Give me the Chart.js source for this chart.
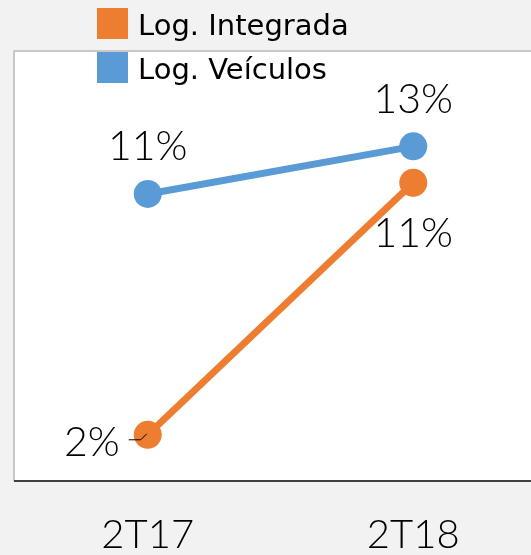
<!DOCTYPE html>
<html>
<head>
<meta charset="utf-8">
<script src="https://cdn.jsdelivr.net/npm/chart.js@4"></script>
<style>
  html, body { margin: 0; padding: 0; background: #f2f2f2; overflow: hidden; }
  #wrap { width: 560px; height: 589px; position: relative; }
</style>
</head>
<body>
<div id="wrap"><canvas id="lineChart"></canvas></div>
<script>
const periods = ['2T17', '2T18'];
const seriesNames = ['Log. Integrada', 'Log. Veículos'];
const integrada = [2.4, 11.4];
const veiculos = [11.0, 12.7];
const seriesColors = ['#ED7D31', '#5B9BD5'];
// where each value label sits relative to its point
const labelPlaces = [['left', 'below'], ['above', 'above']];

const FONT = 'Lato, "Open Sans", sans-serif';
const LEGEND_FONT = '"DejaVu Sans", sans-serif';

const plotBackground = {
    id: 'plotBackground',
    beforeDraw(chart) {
        const c = chart.ctx;
        const a = chart.chartArea;
        c.save();
        c.fillStyle = '#f2f2f2';
        c.fillRect(0, 0, chart.width, chart.height);
        c.fillStyle = '#ffffff';
        c.fillRect(a.left, a.top, a.right - a.left, a.bottom - a.top);
        c.strokeStyle = '#c8c8c8';
        c.lineWidth = 2;
        c.beginPath();
        c.moveTo(a.left - 1, a.bottom);
        c.lineTo(a.left - 1, a.top - 1);
        c.lineTo(a.right, a.top - 1);
        c.stroke();
        c.restore();
    }
};

const pointLabels = {
    id: 'pointLabels',
    afterDatasetsDraw(chart) {
        const c = chart.ctx;
        c.save();
        c.font = '300 41px ' + FONT;
        c.fillStyle = '#000';
        c.textAlign = 'center';
        c.textBaseline = 'middle';
        chart.data.datasets.forEach((ds, i) => {
            chart.getDatasetMeta(i).data.forEach((pt, j) => {
                const text = Math.round(ds.data[j]) + '%';
                const place = labelPlaces[i][j];
                let x = pt.x, y = pt.y;
                if (place === 'above') {
                    y -= 47;
                } else if (place === 'below') {
                    y += 51;
                } else if (place === 'left') {
                    x -= 56;
                    y += 8;
                    c.strokeStyle = '#000';
                    c.lineWidth = 1;
                    c.beginPath();
                    c.moveTo(pt.x - 19, pt.y + 5);
                    c.lineTo(pt.x - 7, pt.y + 5);
                    c.lineTo(pt.x - 1, pt.y - 1);
                    c.stroke();
                }
                c.fillText(text, x, y);
            });
        });
        c.restore();
    }
};

const boxLegend = {
    id: 'boxLegend',
    afterDraw(chart) {
        const c = chart.ctx;
        c.save();
        c.font = '29px ' + LEGEND_FONT;
        c.textBaseline = 'alphabetic';
        chart.data.datasets.forEach((ds, i) => {
            const top = 8 + i * 44;
            c.fillStyle = ds.borderColor;
            c.fillRect(97, top, 31, 31);
            c.fillStyle = '#000';
            c.fillText(ds.label, 138, top + 27);
        });
        c.restore();
    }
};

new Chart(document.getElementById('lineChart'), {
    type: 'line',
    data: {
        labels: periods,
        datasets: [
            {
                label: seriesNames[0],
                data: integrada,
                borderColor: seriesColors[0],
                backgroundColor: seriesColors[0],
                borderWidth: 7,
                pointRadius: 14,
                pointBorderWidth: 0,
                pointHoverRadius: 14
            },
            {
                label: seriesNames[1],
                data: veiculos,
                borderColor: seriesColors[1],
                backgroundColor: seriesColors[1],
                borderWidth: 7,
                pointRadius: 14,
                pointBorderWidth: 0,
                pointHoverRadius: 14
            }
        ]
    },
    options: {
        responsive: true,
        maintainAspectRatio: false,
        animation: false,
        layout: { padding: { left: 15, top: 52, right: 11, bottom: 0 } },
        plugins: {
            legend: { display: false },
            tooltip: { enabled: false }
        },
        scales: {
            x: {
                offset: true,
                grid: { display: false, drawTicks: false },
                border: { display: true, color: '#404040', width: 2 },
                ticks: {
                    color: '#000',
                    padding: 30,
                    font: { family: FONT, size: 40, weight: '300' }
                }
            },
            y: {
                display: false,
                min: 0.75,
                max: 16.07
            }
        }
    },
    plugins: [plotBackground, pointLabels, boxLegend]
});
</script>
</body>
</html>
